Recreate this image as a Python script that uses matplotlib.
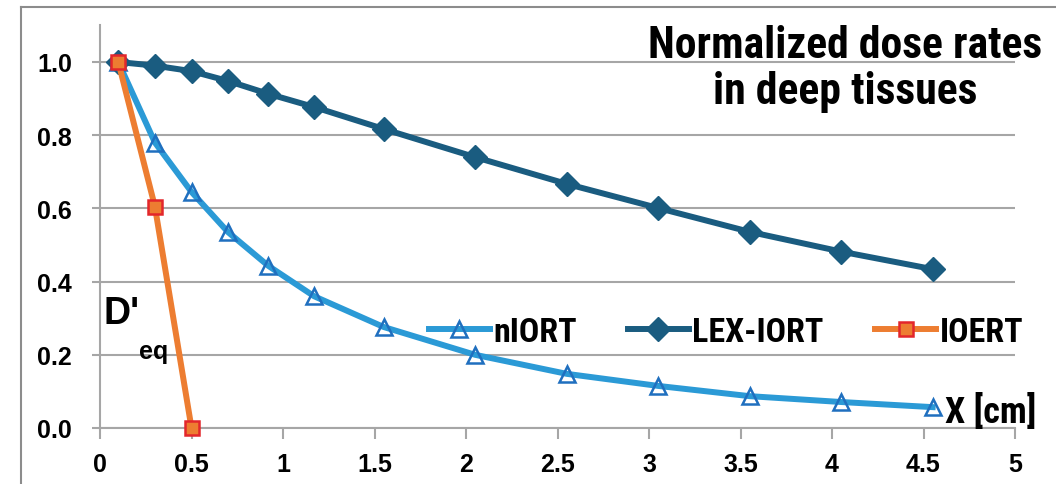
import matplotlib
matplotlib.use("Agg")
import matplotlib.pyplot as plt
from matplotlib.lines import Line2D
from matplotlib import font_manager

# ---- data ----
x_depth = [0.1, 0.3, 0.5, 0.7, 0.92, 1.17, 1.55, 2.05, 2.55, 3.05, 3.55, 4.05, 4.55]
niort = [1.0, 0.78, 0.645, 0.535, 0.443, 0.36, 0.276, 0.2, 0.148, 0.115, 0.087, 0.071, 0.057]
lex_iort = [1.0, 0.99, 0.975, 0.948, 0.913, 0.877, 0.817, 0.74, 0.667, 0.601, 0.536, 0.482, 0.434]
x_ioert = [0.1, 0.3, 0.5]
ioert = [1.0, 0.605, 0.0]
x_ticks = [0, 0.5, 1, 1.5, 2, 2.5, 3, 3.5, 4, 4.5, 5]
x_ticklabels = ["0", "0.5", "1", "1.5", "2", "2.5", "3", "3.5", "4", "4.5", "5"]
y_ticks = [0.0, 0.2, 0.4, 0.6, 0.8, 1.0]
y_ticklabels = ["0.0", "0.2", "0.4", "0.6", "0.8", "1.0"]
series_names = ["nIORT", "LEX-IORT", "IOERT"]
title_text = "Normalized dose rates\nin deep tissues"

installed = {f.name for f in font_manager.fontManager.ttflist}
narrow_pick = None
for cand in ["Roboto Condensed", "Liberation Sans Narrow", "DejaVu Sans Condensed",
             "Open Sans Condensed", "Roboto"]:
    if cand in installed:
        narrow_pick = cand
        break
narrow = [narrow_pick, "DejaVu Sans"] if narrow_pick else ["DejaVu Sans"]
sans = ["Liberation Sans", "DejaVu Sans"]

plt.rcParams["font.family"] = sans
plt.rcParams["font.weight"] = "bold"

W, H = 1056, 485
fig = plt.figure(figsize=(W / 100, H / 100), dpi=100)
ax = fig.add_axes([100 / W, 1 - 429 / H, (1015 - 100) / W, (429 - 26.4) / H])

grid_c = "#a6a6a6"
c_n = "#2b9ad6"
c_n_edge = "#1f6fbf"
c_l = "#1a5c80"
c_o = "#ed7d31"
c_o_edge = "#e3262b"

ax.plot(x_depth, niort, color=c_n, lw=4.3, marker="^", ms=12, mfc="none",
        mec=c_n_edge, mew=1.8, label=series_names[0], clip_on=False, zorder=3)
ax.plot(x_depth, lex_iort, color=c_l, lw=4.3, marker="D", ms=12.5, mfc=c_l,
        mec=c_l, label=series_names[1], clip_on=False, zorder=4)
ax.plot(x_ioert, ioert, color=c_o, lw=4.3, marker="s", ms=10.5, mfc=c_o,
        mec=c_o_edge, mew=1.8, label=series_names[2], clip_on=False, zorder=5)

ax.set_xlim(0, 5)
ax.set_ylim(0, 1.1)
ax.set_xticks(x_ticks, x_ticklabels)
ax.set_yticks(y_ticks, y_ticklabels)
ax.tick_params(axis="both", labelsize=18)
ax.tick_params(axis="y", length=6, width=1.5, color=grid_c, pad=14)
ax.tick_params(axis="x", length=8, width=1.5, color=grid_c, pad=9)
ax.grid(axis="y", color=grid_c, lw=1.5)
ax.set_axisbelow(True)
for s in ["top", "right"]:
    ax.spines[s].set_visible(False)
for s in ["left", "bottom"]:
    ax.spines[s].set_color(grid_c)
    ax.spines[s].set_linewidth(1.5)

leg = ax.legend(loc="center", bbox_to_anchor=(0.684, 0.262 / 1.1), ncol=3,
                frameon=False, prop={"family": narrow, "weight": "bold", "size": 24.5},
                handlelength=1.8, handletextpad=0.1, columnspacing=1.5, numpoints=1)

ax.text(0.02, 0.315, "D'", ha="left", va="center", fontfamily=sans,
        fontweight="bold", fontsize=27)
ax.text(0.215, 0.21, "eq", ha="left", va="center", fontfamily=sans,
        fontweight="bold", fontsize=18)

fig.text(845 / W, 1 - 69 / H, title_text, ha="center", va="center",
         fontfamily=narrow, fontweight="bold", fontsize=31.5, linespacing=1.12)

fig.text(945 / W, 1 - 413 / H, "X [cm]", ha="left", va="center",
         fontfamily=narrow, fontweight="bold", fontsize=26)

# outer frame
fig.add_artist(Line2D([21 / W, 21 / W], [0, 1 - 8 / H], transform=fig.transFigure,
                      color="#8c8c8c", lw=1.5))
fig.add_artist(Line2D([21 / W, 1], [1 - 8 / H, 1 - 8 / H], transform=fig.transFigure,
                      color="#8c8c8c", lw=1.5))

fig.savefig("out.png", dpi=100)
